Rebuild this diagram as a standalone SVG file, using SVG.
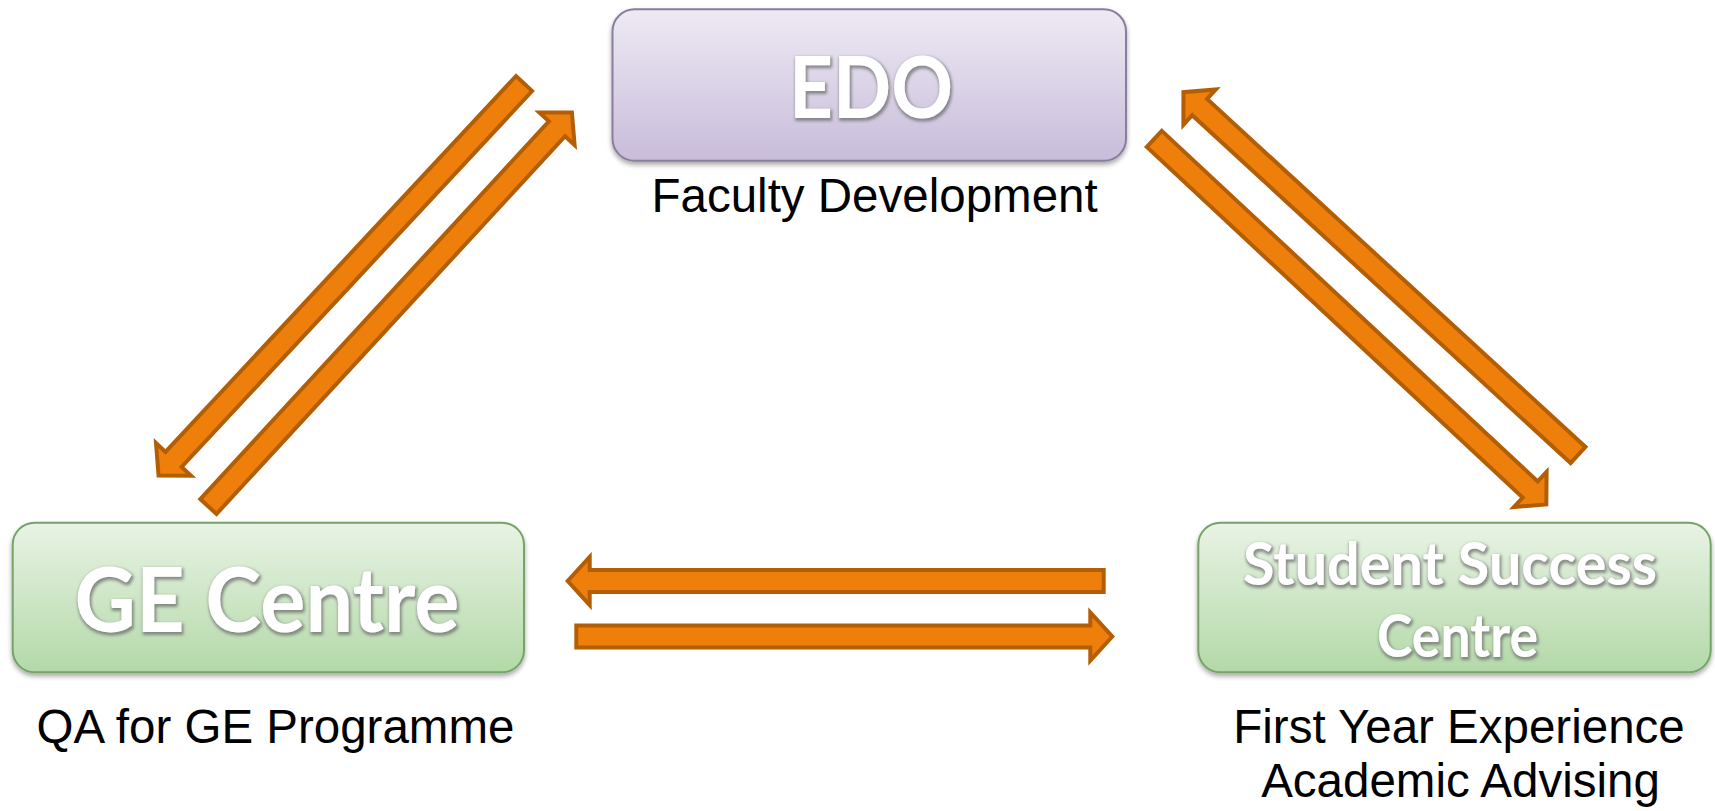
<svg xmlns="http://www.w3.org/2000/svg" width="1715" height="811" viewBox="0 0 1715 811">
<defs>
  <linearGradient id="gPurple" x1="0" y1="0" x2="0" y2="1">
    <stop offset="0" stop-color="#eeeaf4"/>
    <stop offset="1" stop-color="#c8bcda"/>
  </linearGradient>
  <linearGradient id="gGreen" x1="0" y1="0" x2="0" y2="1">
    <stop offset="0" stop-color="#e9f3e5"/>
    <stop offset="1" stop-color="#b3d9a8"/>
  </linearGradient>
  <filter id="boxShadow" x="-5%" y="-10%" width="110%" height="125%">
    <feGaussianBlur in="SourceAlpha" stdDeviation="2.5"/>
    <feOffset dx="0" dy="3" result="b"/>
    <feComponentTransfer in="b" result="s"><feFuncA type="linear" slope="0.35"/></feComponentTransfer>
    <feMerge><feMergeNode in="s"/><feMergeNode in="SourceGraphic"/></feMerge>
  </filter>
  <filter id="glow" x="-10%" y="-40%" width="120%" height="180%">
    <feMorphology in="SourceAlpha" operator="dilate" radius="1.2" result="d"/>
    <feGaussianBlur in="d" stdDeviation="1.8" result="bl"/>
    <feOffset in="bl" dx="0.5" dy="1.5" result="o"/>
    <feFlood flood-color="#6e6e6e" flood-opacity="0.75"/>
    <feComposite in2="o" operator="in" result="sh"/>
    <feMerge><feMergeNode in="sh"/><feMergeNode in="SourceGraphic"/></feMerge>
  </filter>
  <polygon id="arrow" points="0,-11 514,-11 514,-24 536,0 514,24 514,11 0,11"/>
</defs>
<style>
  .box-p { fill: url(#gPurple); stroke: #8a7e9c; stroke-width: 2; }
  .box-g { fill: url(#gGreen); stroke: #74a468; stroke-width: 2; }
  .title { font-family: "Lato", "Open Sans", "DejaVu Sans", sans-serif; font-weight: bold; fill: #ffffff; text-anchor: middle; }
  .label { font-family: "Liberation Sans", Arial, sans-serif; font-size: 47.5px; fill: #000000; text-anchor: middle; }
  .arr { fill: #ef7f0b; stroke: #b35e04; stroke-width: 4; stroke-linejoin: miter; }
</style>
<rect width="1715" height="811" fill="#ffffff"/>

<g id="connectors">
  <use href="#arrow" class="arr" transform="translate(524.1,83.5) rotate(133)"/>
  <use href="#arrow" class="arr" transform="translate(208.4,506.5) rotate(-47.3)"/>
  <use href="#arrow" class="arr" transform="translate(1578,455) rotate(-137.4)"/>
  <use href="#arrow" class="arr" transform="translate(1154.3,138.9) rotate(43)"/>
  <use href="#arrow" class="arr" transform="translate(1103.7,581) rotate(180)"/>
  <use href="#arrow" class="arr" transform="translate(576.3,636.5)"/>
</g>

<g id="node-edo">
  <rect class="box-p" x="612.5" y="9.3" width="513.5" height="151.5" rx="22" filter="url(#boxShadow)"/>
  <text class="title" x="871" y="118" font-size="87" textLength="164" lengthAdjust="spacingAndGlyphs" filter="url(#glow)">EDO</text>
  <text class="label" x="874.6" y="212">Faculty Development</text>
</g>

<g id="node-ge">
  <rect class="box-g" x="12.7" y="522.7" width="511.3" height="149.6" rx="22" filter="url(#boxShadow)"/>
  <text class="title" x="267" y="631.5" font-size="90" textLength="385" lengthAdjust="spacingAndGlyphs" filter="url(#glow)">GE Centre</text>
  <text class="label" x="275.5" y="743">QA for GE Programme</text>
</g>

<g id="node-ssc">
  <rect class="box-g" x="1198.3" y="522.7" width="512.4" height="149.6" rx="22" filter="url(#boxShadow)"/>
  <text class="title" x="1450" y="585" font-size="59" textLength="414" lengthAdjust="spacingAndGlyphs" filter="url(#glow)">Student Success</text>
  <text class="title" x="1457.5" y="656.5" font-size="59" textLength="161" lengthAdjust="spacingAndGlyphs" filter="url(#glow)">Centre</text>
  <text class="label" x="1459" y="743">First Year Experience</text>
  <text class="label" x="1460.5" y="796.5">Academic Advising</text>
</g>
</svg>
